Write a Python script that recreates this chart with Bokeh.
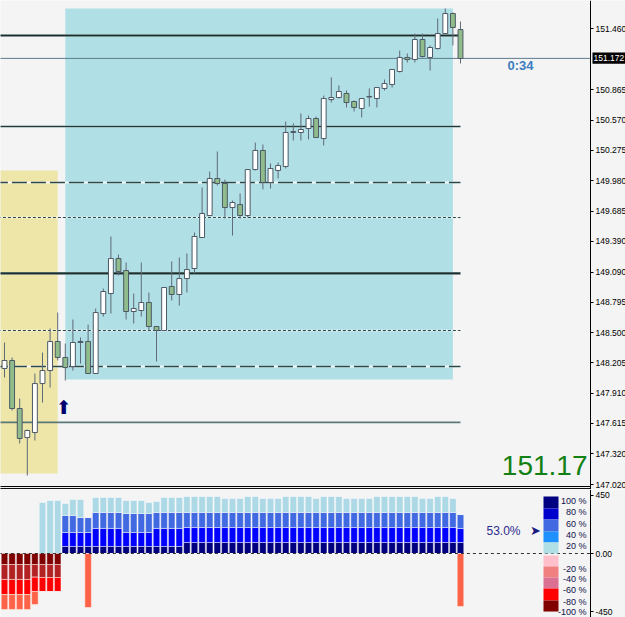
from bokeh.plotting import figure
from bokeh.layouts import column
from bokeh.models import Range1d, FixedTicker, NumeralTickFormatter, Label, LinearAxis
from bokeh.embed import file_html
from bokeh.resources import INLINE

# ---------------- data ----------------
opens = [148.151, 148.229, 147.761, 147.478, 147.527, 148.004, 148.131, 148.414, 148.258, 148.170,
         148.404, 148.414, 148.102, 148.686, 148.881, 149.222, 149.105, 148.706, 148.716, 148.794,
         148.560, 148.521, 148.950, 148.872, 149.027, 149.125, 149.427, 149.641, 150.002, 149.953,
         149.719, 149.748, 149.641, 150.089, 150.275, 149.963, 150.080, 150.119, 150.450, 150.450,
         150.489, 150.586, 150.391, 150.771, 150.791, 150.830, 150.752, 150.684, 150.796, 150.781,
         150.879, 150.918, 151.044, 151.181, 151.161, 151.356, 151.181, 151.268, 151.414, 151.609,
         151.453]
highs = [148.404, 148.258, 147.858, 147.556, 148.102, 148.306, 148.540, 148.696, 148.394, 148.628,
         148.453, 148.579, 148.735, 148.930, 149.437, 149.261, 149.183, 148.881, 149.183, 148.891,
         148.560, 148.940, 149.193, 149.232, 149.271, 149.476, 149.914, 150.070, 150.265, 149.992,
         149.787, 149.856, 150.089, 150.352, 150.333, 150.148, 150.158, 150.557, 150.538, 150.635,
         150.616, 150.606, 150.810, 150.986, 150.908, 150.859, 150.762, 150.781, 150.879, 150.888,
         150.966, 151.064, 151.249, 151.220, 151.414, 151.414, 151.298, 151.561, 151.658, 151.619,
         151.531]
lows = [148.063, 147.741, 147.420, 147.108, 147.449, 147.819, 147.965, 148.229, 148.034, 148.131,
        148.199, 148.102, 148.102, 148.657, 148.686, 149.057, 148.628, 148.589, 148.657, 148.521,
        148.219, 148.521, 148.813, 148.764, 148.891, 149.076, 149.427, 149.641, 149.934, 149.612,
        149.446, 149.612, 149.622, 150.080, 149.895, 149.904, 150.002, 150.099, 150.372, 150.372,
        150.382, 150.401, 150.323, 150.742, 150.781, 150.694, 150.655, 150.596, 150.703, 150.694,
        150.859, 150.888, 151.035, 151.132, 151.132, 151.181, 151.054, 151.259, 151.414, 151.298,
        151.122]
closes = [148.229, 147.761, 147.469, 147.547, 148.004, 148.131, 148.414, 148.258, 148.160, 148.404,
          148.414, 148.102, 148.696, 148.901, 149.222, 149.096, 148.706, 148.735, 148.794, 148.560,
          148.521, 148.940, 148.872, 149.027, 149.115, 149.437, 149.661, 150.002, 149.953, 149.719,
          149.768, 149.641, 150.089, 150.275, 149.963, 150.099, 150.128, 150.450, 150.460, 150.479,
          150.586, 150.401, 150.781, 150.791, 150.849, 150.742, 150.694, 150.781, 150.801, 150.888,
          150.927, 151.064, 151.181, 151.161, 151.356, 151.190, 151.278, 151.414, 151.609, 151.473,
          151.171]

price_ticks = [147.020, 147.320, 147.615, 147.910, 148.205, 148.500, 148.795, 149.090,
               149.390, 149.685, 149.980, 150.275, 150.570, 150.865, 151.460]
current_price = 151.172
levels_thick = [151.395, 149.077]
levels_solid = [150.509]
levels_dashed = [149.963, 148.170]
levels_dotted = [149.622, 148.521]
levels_thin = [147.626]
levels_end_bar = 60

zone_yellow = [-2, 7, 147.128, 150.080]     # start bar, end bar, low, high
zone_blue = [8, 59, 148.043, 151.658]
signal_bar = 7.8
signal_price = 147.771
timer_text = "0:34"
big_price_text = "151.17"

# lower panel: stacked segments per bar
navy_seg = [0, 0, 0, 0, 0, 0, 0, 0, 54, 54, 54, 54, 54, 54, 54, 54, 54, 54, 54, 54, 54, 54, 54, 54,
            85, 85, 85, 85, 85, 85, 85, 85, 85, 85, 85, 85, 85, 85, 85, 85, 85, 85, 85, 85, 85, 85,
            85, 85, 85, 85, 85, 85, 85, 85, 85, 85, 85, 85, 85, 85, 85]
blue_seg = [0, 0, 0, 0, 0, 0, 0, 0, 108, 108, 108, 108, 139, 139, 139, 139, 108, 108, 108, 108,
            139, 139, 139, 139, 115, 115, 115, 115, 115, 115, 115, 115, 115, 115, 115, 115, 115, 115,
            115, 115, 115, 115, 115, 115, 115, 115, 115, 115, 115, 115, 115, 115, 115, 115, 115, 115,
            115, 115, 115, 115, 108]
royal_seg = [0, 0, 0, 0, 0, 0, 0, 0, 131, 131, 115, 115, 123, 123, 123, 123, 146, 146, 146, 146,
             123, 123, 123, 123, 116, 116, 116, 116, 116, 116, 116, 116, 116, 116, 116, 116, 116, 116,
             116, 116, 116, 116, 116, 116, 116, 116, 116, 116, 116, 116, 116, 116, 116, 116, 116, 116,
             116, 116, 116, 116, 107]
light_seg = [0, 0, 0, 0, 0, 393, 408, 408, 92, 123, 139, 0, 115, 115, 115, 115, 100, 100, 100, 85,
             84, 115, 115, 115, 123, 123, 123, 123, 123, 108, 108, 108, 123, 123, 108, 108, 108, 123,
             123, 123, 123, 108, 123, 123, 123, 108, 108, 108, 108, 123, 123, 123, 123, 123, 123, 108,
             108, 123, 123, 108, 0]
maroon_seg = [85, 85, 85, 85, 85, 85, 85, 85] + [0] * 53
fire_seg = [115, 115, 115, 115, 97, 100, 100, 100] + [0] * 53
red_seg = [116, 116, 116, 116, 111, 108, 108, 108] + [0] * 53
tomato_seg = [115, 115, 115, 115, 100, 0, 0, 0, 0, 0, 0, 416, 0, 0, 0, 0, 0, 0, 0, 0,
              0, 0, 0, 0, 0, 0, 0, 0, 0, 0, 0, 0, 0, 0, 0, 0, 0, 0, 0, 0,
              0, 0, 0, 0, 0, 0, 0, 0, 0, 0, 0, 0, 0, 0, 0, 0, 0, 0, 0, 0, 408]
legend_pos_labels = ["100 %", "80 %", "60 %", "40 %", "20 %"]
legend_neg_labels = ["-20 %", "-40 %", "-60 %", "-80 %", "-100 %"]
sentiment_pct = 53.0
sub_ticks = [-450, 0, 450]

# ---------------- layout / style ----------------
BG = "#F4F4F4"
W, H_MAIN, H_SUB = 625, 489, 128
PX = 7.6                 # pixels per bar
X0 = -4 / PX
x_end = X0 + W / PX
xr = Range1d(X0, x_end)


def at_px(px):
    """horizontal pixel position -> bar coordinate (for layout of annotations)"""
    return X0 + px / PX


AXIS_X = at_px(590)


def make_axis(ticks, size="8.5px"):
    ax = LinearAxis(fixed_location=AXIS_X, ticker=FixedTicker(ticks=ticks))
    ax.axis_line_color = "black"
    ax.major_tick_line_color = "black"
    ax.major_tick_out = 3
    ax.major_tick_in = 0
    ax.minor_tick_out = 0
    ax.minor_tick_in = 0
    ax.major_label_standoff = 2
    ax.major_label_text_font = "Liberation Sans"
    ax.major_label_text_font_size = size
    ax.major_label_text_color = "black"
    return ax


def base_fig(h, yr):
    f = figure(width=W, height=h, x_range=xr, y_range=yr, output_backend="svg",
               toolbar_location=None, x_axis_location=None, y_axis_location=None,
               min_border_left=0, min_border_right=0, min_border_top=0, min_border_bottom=0)
    f.background_fill_color = BG
    f.border_fill_color = BG
    f.outline_line_color = None
    f.grid.visible = False
    return f


# ---------------- main panel ----------------
p = base_fig(H_MAIN, Range1d(146.972, 151.736))
ax = make_axis(price_ticks)
ax.formatter = NumeralTickFormatter(format="0.000")
p.add_layout(ax, "right")

# zones
p.quad(left=[zone_yellow[0]], right=[zone_yellow[1]], bottom=[zone_yellow[2]], top=[zone_yellow[3]],
       fill_color="#EEE6A9", line_color=None)
p.quad(left=[zone_blue[0]], right=[zone_blue[1]], bottom=[zone_blue[2]], top=[zone_blue[3]],
       fill_color="#B0DFE5", line_color=None)


def level_lines(vals, color, width, dash=None, halo=False):
    n = len(vals)
    x0 = [X0 - 1] * n
    x1 = [levels_end_bar] * n
    if halo:
        p.segment(x0=x0, x1=x1, y0=vals, y1=vals, line_color="white", line_width=width + 0.5, line_alpha=0.8)
    kw = dict(line_color=color, line_width=width)
    if dash:
        kw["line_dash"] = dash
    p.segment(x0=x0, x1=x1, y0=vals, y1=vals, **kw)


level_lines(levels_thick, "#17302F", 2.2, halo=True)
level_lines(levels_solid, "#1E3A3A", 1.6, halo=True)
level_lines(levels_dashed, "#2A4848", 1.6, dash="15 4", halo=True)
level_lines(levels_dotted, "#2A4848", 1.2, dash="3 2", halo=True)
level_lines(levels_thin, "#5A7878", 1.6)

# current price line (bid)
p.segment(x0=[X0 - 1], x1=[AXIS_X], y0=[current_price], y1=[current_price], line_color="#5E7C8E", line_width=1)

# candles
idx = list(range(len(opens)))
tops = [max(o, c) for o, c in zip(opens, closes)]
bots = [min(o, c) for o, c in zip(opens, closes)]
cols = ["#FFFFFF" if c >= o else "#8FBC8A" for o, c in zip(opens, closes)]
p.segment(x0=idx, x1=idx, y0=highs, y1=lows, line_color="#5F6B78", line_width=1)
p.vbar(x=idx, width=0.64, top=tops, bottom=bots, fill_color=cols, line_color="#4D5966", line_width=1)

# panel separator (double line)
p.segment(x0=[X0 - 1, X0 - 1], x1=[AXIS_X, AXIS_X], y0=[147.001, 146.981], y1=[147.001, 146.981],
          line_color="black", line_width=1)

# current price tag on the axis
p.quad(left=[at_px(592)], right=[x_end + 1], bottom=[current_price - 0.052], top=[current_price + 0.058],
       fill_color="black", line_color=None)
p.add_layout(Label(x=at_px(593), y=current_price + 0.004, text=f"{current_price:.3f}",
                   text_font="Liberation Sans", text_font_size="8.5px", text_color="white",
                   text_align="left", text_baseline="middle"))

# annotations
p.add_layout(Label(x=signal_bar, y=signal_price, text="⬆", text_font="DejaVu Sans",
                   text_font_size="19px", text_color="#00006E",
                   text_align="center", text_baseline="middle"))
p.add_layout(Label(x=at_px(520), y=151.098, text=timer_text, text_font="Liberation Sans",
                   text_font_style="bold", text_font_size="13px", text_color="#3C7DC0",
                   text_align="center", text_baseline="middle"))
p.add_layout(Label(x=at_px(587), y=147.206, text=big_price_text, text_font="Liberation Sans",
                   text_font_size="28px", text_color="#138013",
                   text_align="right", text_baseline="middle"))

# ---------------- lower panel ----------------
q = base_fig(H_SUB, Range1d(-493, 493))
qax = make_axis(sub_ticks)
qax.major_label_overrides = {450: "450", 0: "0.00", -450: "-450"}
q.add_layout(qax, "right")

bw = 0.86
base = [0] * len(idx)
for seg, col in [(navy_seg, "#000080"), (blue_seg, "#0000FF"), (royal_seg, "#4169E1"), (light_seg, "#ADD8E6")]:
    top = [b + s for b, s in zip(base, seg)]
    q.vbar(x=idx, width=bw, bottom=base, top=top, fill_color=col, line_color="white",
           line_alpha=0.45, line_width=1)
    base = top
base = [0] * len(idx)
for seg, col in [(maroon_seg, "#800000"), (fire_seg, "#B22222"), (red_seg, "#FF0000"), (tomato_seg, "#FF6347")]:
    bot = [b - s for b, s in zip(base, seg)]
    q.vbar(x=idx, width=bw, bottom=bot, top=base, fill_color=col, line_color="white",
           line_alpha=0.45, line_width=1)
    base = bot

q.segment(x0=[X0 - 1], x1=[AXIS_X], y0=[0], y1=[0], line_color="#333333", line_width=1, line_dash="3 3")

# colour legend
pos_bounds = [439, 347, 262, 169, 85, 0]
neg_bounds = [-15, -100, -185, -270, -362, -447]
pos_cols = ["#000080", "#0000CD", "#4169E1", "#1E90FF", "#B0E0E6"]
neg_cols = ["#FFC0CB", "#F08080", "#DB7093", "#FF0000", "#800000"]
lx0, lx1 = at_px(543), at_px(558)
q.quad(left=[lx0] * 5, right=[lx1] * 5, top=pos_bounds[:-1], bottom=pos_bounds[1:], fill_color=pos_cols,
       line_color=None)
q.quad(left=[lx0] * 5, right=[lx1] * 5, top=neg_bounds[:-1], bottom=neg_bounds[1:], fill_color=neg_cols,
       line_color=None)
for t, yv in zip(legend_pos_labels + legend_neg_labels, [408, 316, 231, 146, 54, -116, -200, -285, -370, -450]):
    q.add_layout(Label(x=at_px(586), y=yv, text=t, text_font="Liberation Sans", text_font_size="9px",
                       text_color="#10104A", text_align="right", text_baseline="middle"))
q.add_layout(Label(x=at_px(520), y=177, text=f"{sentiment_pct:.1f}%", text_font="Liberation Sans",
                   text_font_size="12px", text_color="#2B2B8F", text_align="right", text_baseline="middle"))
q.add_layout(Label(x=at_px(535), y=177, text="➤", text_font="DejaVu Sans", text_font_size="13px",
                   text_color="#1A1A80", text_align="center", text_baseline="middle"))

layout = column(p, q, spacing=0)
open("out.html", "w").write(file_html(layout, INLINE))
